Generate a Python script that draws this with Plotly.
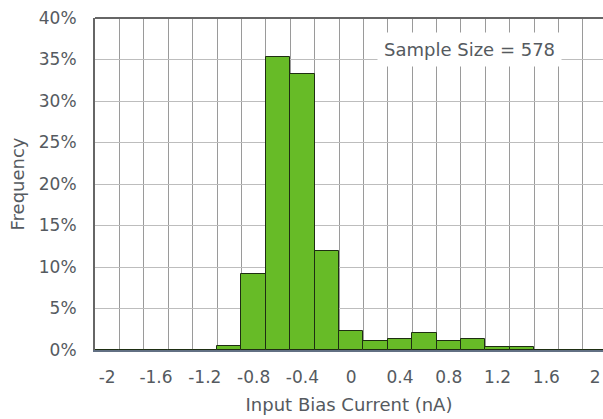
import plotly.graph_objects as go

# Data
bin_centers = [-2.0, -1.8, -1.6, -1.4, -1.2, -1.0, -0.8, -0.6, -0.4, -0.2, 0.0,
               0.2, 0.4, 0.6, 0.8, 1.0, 1.2, 1.4, 1.6, 1.8, 2.0]
frequency_pct = [0, 0, 0, 0, 0, 0.52, 9.17, 35.29, 33.22, 11.94, 2.25,
                 1.04, 1.38, 2.08, 1.04, 1.38, 0.35, 0.35, 0, 0, 0]
x_tick_vals = [-2, -1.6, -1.2, -0.8, -0.4, 0, 0.4, 0.8, 1.2, 1.6, 2]
x_tick_text = ["-2", "-1.6", "-1.2", "-0.8", "-0.4", "0", "0.4", "0.8", "1.2", "1.6", "2"]
y_tick_vals = [0, 5, 10, 15, 20, 25, 30, 35, 40]
y_tick_text = ["0%", "5%", "10%", "15%", "20%", "25%", "30%", "35%", "40%"]
sample_text = "Sample Size = 578"

FONT = "DejaVu Sans"
TXT = "#555a60"

fig = go.Figure()
fig.add_trace(go.Bar(
    x=bin_centers, y=frequency_pct, width=0.2,
    marker=dict(color="#67bb27", line=dict(color="#1e2e12", width=1)),
))

fig.update_layout(
    width=603, height=419,
    margin=dict(l=95, r=0, t=18, b=69),
    paper_bgcolor="white", plot_bgcolor="white",
    showlegend=False,
    font=dict(family=FONT, size=17, color=TXT),
    bargap=0,
)

fig.update_xaxes(
    automargin=False,
    ticklabeloverflow="allow",
    range=[-2.1, 2.064],
    tickmode="array", tickvals=x_tick_vals, ticktext=x_tick_text,
    showgrid=False, zeroline=False,
    ticks="outside", ticklen=11, tickcolor="rgba(0,0,0,0)",
    showline=True, linecolor="#627083", linewidth=2,
    minor=dict(tick0=-2.1, dtick=0.2, showgrid=True, gridcolor="#9a9a9a", gridwidth=1, ticks=""),
    title=dict(text="Input Bias Current (nA)", font=dict(size=18, color=TXT), standoff=12),
    tickfont=dict(size=17, color=TXT),
)
fig.update_yaxes(
    automargin=False,
    ticklabeloverflow="allow",
    range=[0, 40],
    tickmode="array", tickvals=y_tick_vals, ticktext=y_tick_text,
    showgrid=True, gridcolor="#bdbdbd", gridwidth=1, zeroline=False,
    ticks="outside", ticklen=13, tickcolor="rgba(0,0,0,0)",
    showline=True, linecolor="#666666", linewidth=2,
    title=dict(text="Frequency", font=dict(size=18, color=TXT), standoff=10),
    tickfont=dict(size=17, color=TXT),
)

fig.add_shape(type="line", xref="paper", yref="paper", x0=0, x1=1, y0=1, y1=1,
              line=dict(color="#666666", width=2))

fig.add_annotation(
    xref="paper", yref="paper", x=0.738, y=0.905, xanchor="center", yanchor="middle",
    text=sample_text, showarrow=False, bgcolor="white", borderpad=6,
    font=dict(size=18, color=TXT, family=FONT),
)

fig.write_html("out.html",
               config={"displayModeBar": False},
               post_script="document.body.style.margin='0';document.body.style.overflow='hidden';")
